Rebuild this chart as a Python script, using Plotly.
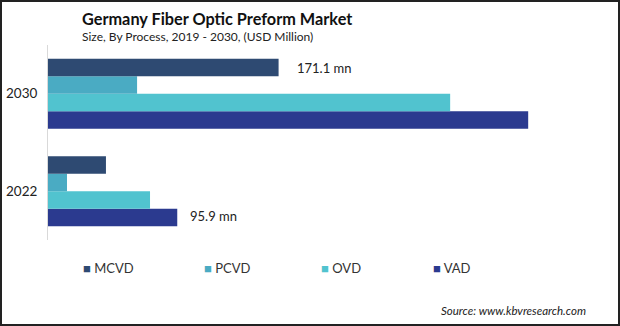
import plotly.graph_objects as go

# Data
years = ["2022", "2030"]
processes = ["MCVD", "PCVD", "OVD", "VAD"]
mcvd = [43.0, 171.1]
pcvd = [14.1, 66.1]
ovd = [75.7, 298.4]
vad = [95.9, 356.3]
colors = {"MCVD": "#2e4a72", "PCVD": "#4aabc3", "OVD": "#51c3cf", "VAD": "#2b3a8f"}

series = {"MCVD": mcvd, "PCVD": pcvd, "OVD": ovd, "VAD": vad}

W, H = 620, 326
L, R, T, B = 48, 40, 45, 86
PW, PH = W - L - R, H - T - B
UNITS_PER_PX = 0.742


def px_x(p):
    return (p - L) / PW


def px_y(p):
    return (H - B - p) / PH


fig = go.Figure()
# Plotly stacks grouped horizontal bars bottom-up, so add VAD first
for name in reversed(processes):
    fig.add_trace(go.Bar(
        y=years, x=series[name], name=name, orientation="h",
        marker=dict(color=colors[name], line=dict(width=0)),
        showlegend=False,
    ))

annotations = [
    dict(text="<b>Germany Fiber Optic Preform Market</b>", x=px_x(80), y=px_y(18),
         xref="paper", yref="paper", xanchor="left", yanchor="middle", showarrow=False,
         font=dict(family="Lato", size=16.3, color="#111")),
    dict(text="Size, By Process, 2019 - 2030, (USD Million)", x=px_x(80), y=px_y(37),
         xref="paper", yref="paper", xanchor="left", yanchor="middle", showarrow=False,
         font=dict(family="Lato", size=12, color="#222")),
    dict(text="<i>Source: www.kbvresearch.com</i>", x=px_x(588), y=px_y(310),
         xref="paper", yref="paper", xanchor="right", yanchor="middle", showarrow=False,
         font=dict(family="Lato", size=11.5, color="#222")),
    # value labels
    dict(text="171.1 mn", x=mcvd[1], y=1, yshift=26, xref="x", yref="y",
         xanchor="left", yanchor="middle", xshift=16, showarrow=False,
         font=dict(family="Lato", size=13, color="#222")),
    dict(text="95.9 mn", x=vad[0], y=0, yshift=-25, xref="x", yref="y",
         xanchor="left", yanchor="middle", xshift=11, showarrow=False,
         font=dict(family="Lato", size=13, color="#222")),
]

# Legend row
legend_x = [81, 202, 319, 431]
for name, lx in zip(processes, legend_x):
    annotations.append(dict(
        text=f"<span style='color:{colors[name]}'>■</span> {name}",
        x=px_x(lx), y=px_y(268), xref="paper", yref="paper",
        xanchor="left", yanchor="middle", showarrow=False,
        font=dict(family="Lato", size=13, color="#333"),
    ))

fig.update_layout(
    width=W, height=H,
    margin=dict(l=L, r=R, t=T, b=B, autoexpand=False),
    paper_bgcolor="white", plot_bgcolor="white",
    barmode="group", bargap=0.28, bargroupgap=0,
    xaxis=dict(range=[0, PW * UNITS_PER_PX], visible=False, fixedrange=True),
    yaxis=dict(type="category", categoryorder="array", categoryarray=years,
               showline=True, linecolor="#d9d9d9", linewidth=1, ticks="",
               showgrid=False, automargin=False,
               tickfont=dict(family="Lato", size=13.5, color="#222"),
               ticklabelstandoff=7),
    annotations=annotations,
    showlegend=False,
    shapes=[dict(type="rect", xref="paper", yref="paper",
                 x0=px_x(1), x1=px_x(619), y0=px_y(1), y1=px_y(325),
                 line=dict(color="#222", width=2))],
)

fig.write_html("out.html", config={"displayModeBar": False})
